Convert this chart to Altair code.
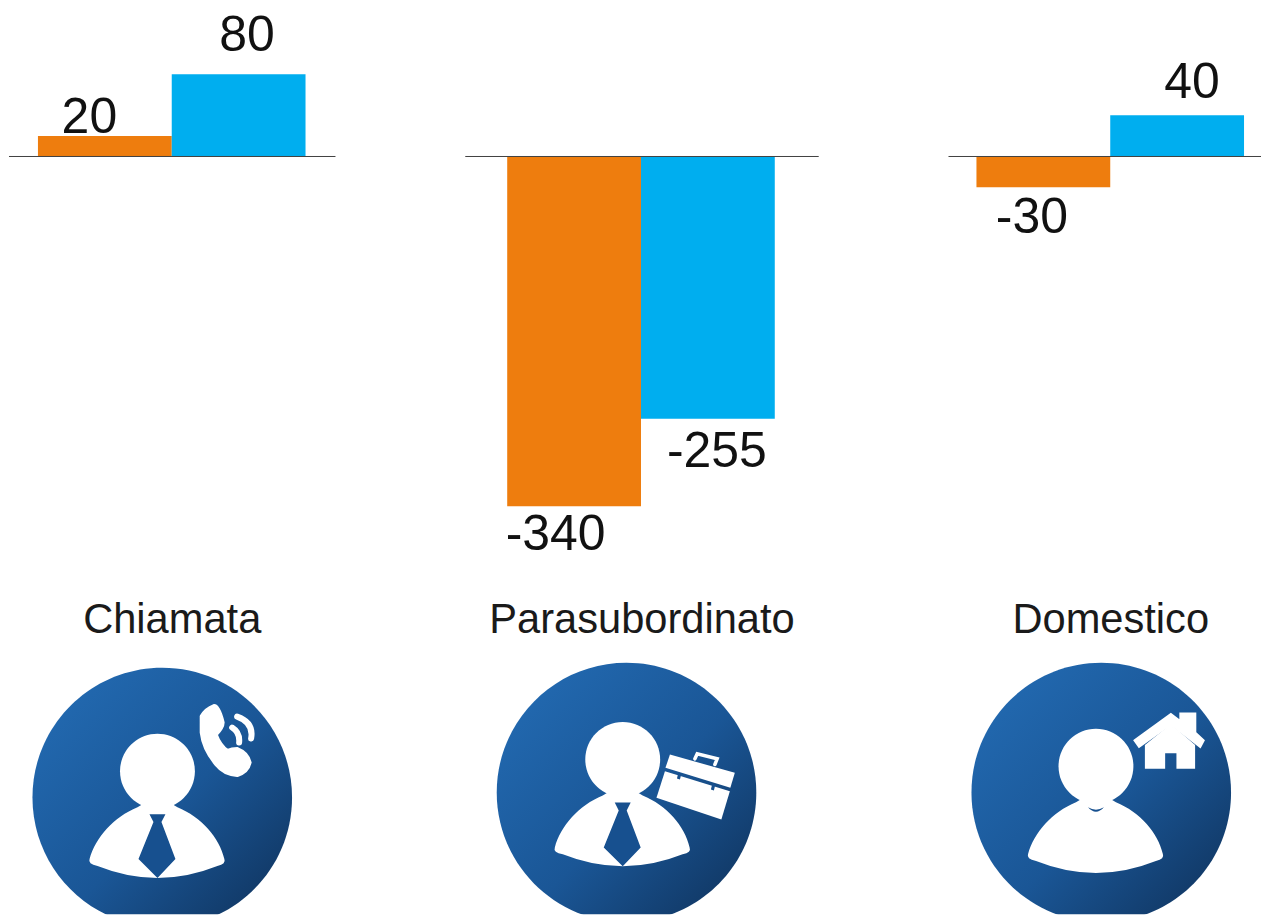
import altair as alt
import pandas as pd

# --- chart values ---
groups = ["Chiamata", "Parasubordinato", "Domestico"]
orange_values = [20, -340, -30]
blue_values = [80, -255, 40]

# --- layout helpers (page pixels -> scale units) ---
PX_PER_UNIT_X = 470.0
PX_PER_UNIT_Y = 1.03
X0, Y0 = 171.0, 156.0
W, H = 1254, 907
BAR = 134 / PX_PER_UNIT_X


def ux(px):
    return (px - X0) / PX_PER_UNIT_X


def uy(py):
    return (Y0 - py) / PX_PER_UNIT_Y


xs = alt.Scale(domain=[ux(8), ux(8 + W)], nice=False, zero=False)
ys = alt.Scale(domain=[uy(8 + H), uy(8)], nice=False, zero=False)
X = alt.X("x:Q", scale=xs, axis=None)
Y = alt.Y("y:Q", scale=ys, axis=None)

ORANGE = "#EE7D0E"
BLUE = "#00AEEF"
FONT = "Liberation Sans"

bars_df = pd.DataFrame(
    [{"x": i - BAR, "x2": i, "y": v, "y2": 0} for i, v in enumerate(orange_values)]
)
bars2_df = pd.DataFrame(
    [{"x": i, "x2": i + BAR, "y": v, "y2": 0} for i, v in enumerate(blue_values)]
)


def bars(df, color):
    return (
        alt.Chart(df)
        .mark_bar(color=color, strokeWidth=0, cornerRadius=0)
        .encode(x=X, x2="x2:Q", y=Y, y2="y2:Q")
    )


rule_df = pd.DataFrame(
    {"x": [ux(8), ux(465), ux(949)], "x2": [ux(335), ux(819), ux(8 + W)], "y": [0, 0, 0]}
)
rules = (
    alt.Chart(rule_df)
    .mark_rule(color="#404040", strokeWidth=1)
    .encode(x=X, x2="x2:Q", y=Y)
)

# value labels: value, centre x and baseline in page pixels
label_x = [88.5, 555.5, 1032.5, 246.5, 717, 1193]
label_base = [132, 550, 233, 50, 467, 97]
label_vals = orange_values + blue_values
labels_df = pd.DataFrame(
    {
        "x": [ux(p) for p in label_x],
        "y": [uy(p) for p in label_base],
        "t": [str(v) for v in label_vals],
    }
)
labels = (
    alt.Chart(labels_df)
    .mark_text(font=FONT, fontSize=50, color="#111111", align="center", baseline="alphabetic")
    .encode(x=X, y=Y, text="t:N")
)

cat_df = pd.DataFrame(
    {"x": [ux(171.5), ux(642), ux(1111.5)], "y": [uy(633)] * 3, "t": groups}
)
cats = (
    alt.Chart(cat_df)
    .mark_text(font=FONT, fontSize=41.7, color="#1a1a1a", align="center", baseline="alphabetic")
    .encode(x=X, y=Y, text="t:N")
)

# --- icons ---
gradient = {
    "gradient": "linear",
    "x1": 0.1,
    "y1": 0.1,
    "x2": 0.9,
    "y2": 0.9,
    "stops": [
        {"offset": 0, "color": "#2269B0"},
        {"offset": 0.55, "color": "#1A5696"},
        {"offset": 1, "color": "#113865"},
    ],
}
DARK = "#17508F"
disc_df = pd.DataFrame(
    {"x": [ux(161.5), ux(626.5), ux(1102)], "y": [uy(798), uy(793), uy(793)]}
)
CIRCLE = "M-130,0 A130,130 0 1,1 130,0 A130,130 0 1,1 -130,0 Z"
HEAD = "M-37.5,0 A37.5,37.5 0 1,1 37.5,0 A37.5,37.5 0 1,1 -37.5,0 Z"
BODY = (
    "M-68,88 C-62,66 -44,46 -20,36 L-10,30 L10,30 L20,36 C44,46 62,66 67,88 "
    "Q69,93 60,95 Q30,107 0,107 Q-30,107 -60,95 Q-70,93 -68,88 Z"
)
TIE = "M-8,43 L8,43 L4,51 L18,88 L0,107 L-19,88 L-4,51 Z"
NECK = "M-8,41 Q0,46 8,41 Q0,50 -8,41 Z"
PHONE = (
    "M40,-81 Q44,-88 52,-91 Q56,-91 60,-75 Q60,-70 53,-63 Q57,-52 65,-46 "
    "Q70,-48 75,-48 Q85,-44 87,-35 Q85,-26 75,-23 Q62,-24 55,-33 Q42,-48 40,-65 Z"
)
WAVES = "M70,-70 Q78,-65 77,-55 M75,-81 Q92,-75 89,-59"
LID = "M43.5,-38 L108.5,-19.7 L104,-4.7 L39,-24.7 Z"
CASE = "M38.5,-21.3 L103.5,-1.3 L95,27 L30,5.3 Z"
HANDLE = "M68.5,-33.7 L70.8,-38.7 L90.8,-33.7 L88.5,-28"
CLASPS = "M52,-20 L55,-19 L53.5,-13 L50.5,-14 Z M86,-9 L89,-8 L87.5,-2 L84.5,-3 Z"
ROOF = (
    "M34,-52 L69.7,-78 L79.7,-70.3 L79.7,-78.7 L93.7,-78.7 L93.7,-59.7 L102,-52 "
    "L99,-46.3 L69.7,-69 L38,-46.3 Z"
)
HOUSE = (
    "M44.7,-47 L69.7,-67.3 L93,-47 L93,-24.7 L76.3,-24.7 L76.3,-40.3 L63,-40.3 "
    "L63,-24.7 L44.7,-24.7 Z"
)


def filled(df, path, color, sw=0):
    return (
        alt.Chart(df)
        .mark_point(shape=path, size=4, filled=True, fill=color, stroke=color, opacity=1,
                    strokeWidth=sw, clip=True)
        .encode(x=X, y=Y)
    )


def stroked(df, path, color, sw):
    return (
        alt.Chart(df)
        .mark_point(shape=path, size=4, filled=False, stroke=color, opacity=1, strokeWidth=sw,
                    strokeCap="round", clip=True)
        .encode(x=X, y=Y)
    )


def at(px, py):
    return pd.DataFrame({"x": [ux(px)], "y": [uy(py)]})


heads = pd.DataFrame(
    {"x": [ux(156.7), ux(622.7), ux(1096.7)], "y": [uy(771.7), uy(760), uy(766.7)]}
)
tied = heads.iloc[:2]
plain = heads.iloc[2:]
c1, c2, c3 = at(161.5, 798), at(626.5, 793), at(1102, 793)

chart = alt.layer(
    bars(bars_df, ORANGE),
    bars(bars2_df, BLUE),
    rules,
    labels,
    cats,
    filled(disc_df, CIRCLE, gradient),
    filled(heads, HEAD, "#FFFFFF"),
    filled(heads, BODY, "#FFFFFF"),
    filled(tied, TIE, DARK),
    filled(plain, NECK, DARK),
    filled(c1, PHONE, "#FFFFFF", 5),
    stroked(c1, WAVES, "#FFFFFF", 6),
    filled(c2, LID, "#FFFFFF"),
    filled(c2, CASE, "#FFFFFF"),
    stroked(c2, HANDLE, "#FFFFFF", 3.5),
    filled(c2, CLASPS, DARK),
    filled(c3, ROOF, "#FFFFFF", 3),
    filled(c3, HOUSE, "#FFFFFF", 2),
).properties(
    width=W, height=H, padding=0, background="#FFFFFF"
).configure_view(stroke=None)

chart.save("out.html", embed_options={"renderer": "svg", "actions": False})
